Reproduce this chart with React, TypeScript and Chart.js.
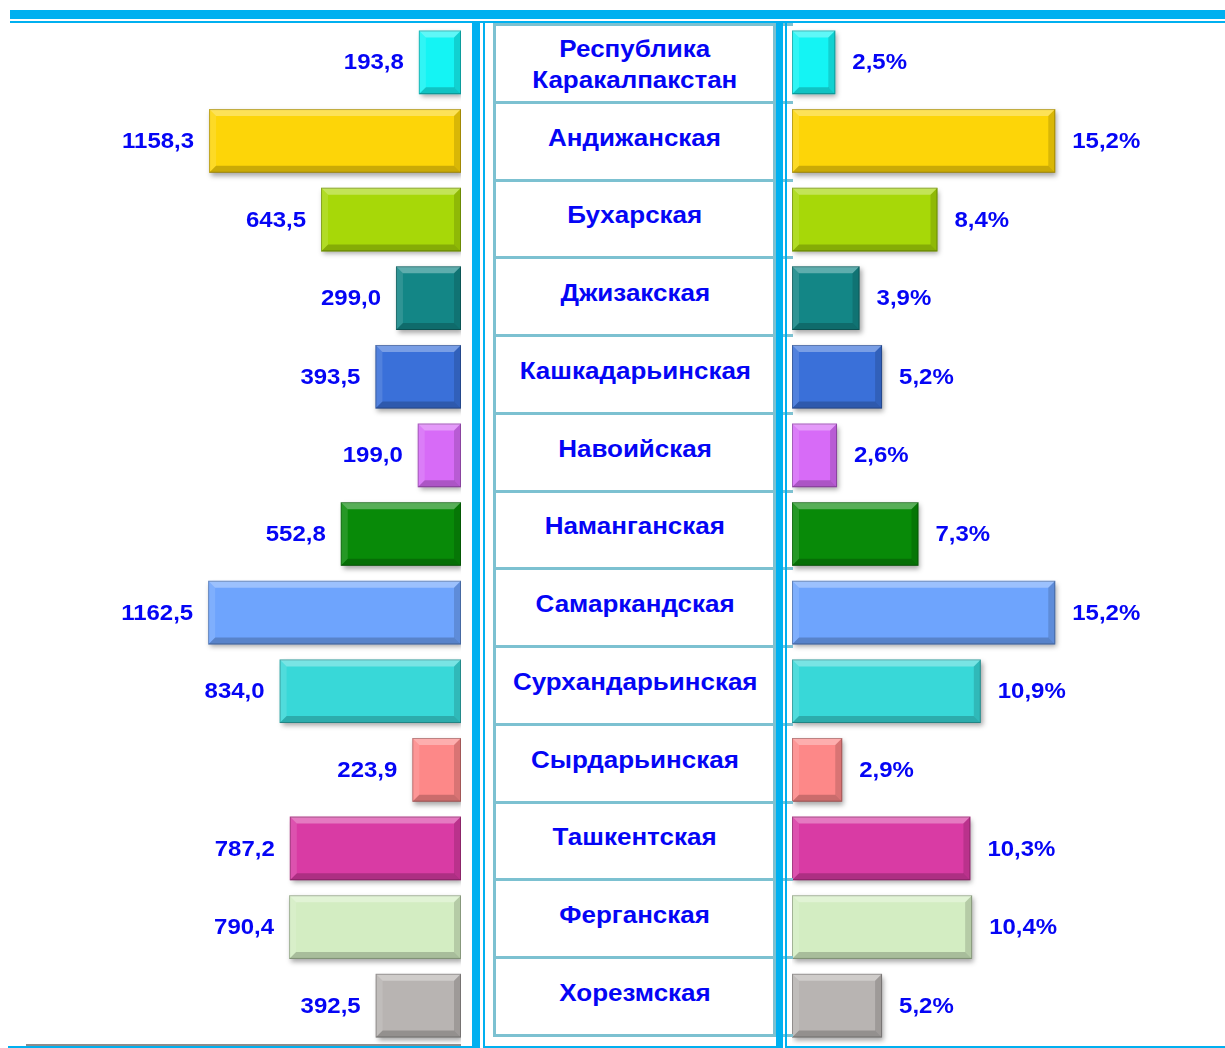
import React, { useEffect, useRef } from "react";
import { Chart, registerables } from "chart.js";

Chart.register(...registerables);

const regions: string[] = [
  "Республика Каракалпакстан",
  "Андижанская",
  "Бухарская",
  "Джизакская",
  "Кашкадарьинская",
  "Навоийская",
  "Наманганская",
  "Самаркандская",
  "Сурхандарьинская",
  "Сырдарьинская",
  "Ташкентская",
  "Ферганская",
  "Хорезмская",
];

const values: number[] = [193.8, 1158.3, 643.5, 299.0, 393.5, 199.0, 552.8, 1162.5, 834.0, 223.9, 787.2, 790.4, 392.5];
const shares: number[] = [2.5, 15.2, 8.4, 3.9, 5.2, 2.6, 7.3, 15.2, 10.9, 2.9, 10.3, 10.4, 5.2];

const barColors: string[] = [
  "#14F4F4",
  "#FDD508",
  "#A7D808",
  "#138686",
  "#3A70D9",
  "#D76BF7",
  "#088A08",
  "#6EA4FD",
  "#38D8D8",
  "#FD8888",
  "#D93BA4",
  "#D3EDC2",
  "#B8B4B2",
];

const FRAME = "#00B0F0";
const TABLE_LINE = "#7CC1D1";
const TEXT_BLUE = "#0505F5";
const FONT = 'bold 22px "Liberation Sans", Arial, sans-serif';
const CENTER_FONT = 'bold 23px "Liberation Sans", Arial, sans-serif';

const fmt = (v: number) => v.toFixed(1).replace(".", ",");

function makeBevelPlugin(side: "left" | "right", labelText: (i: number) => string) {
  return {
    id: "bevelLabels",
    beforeDatasetsDraw(chart: any) {
      const ctx = chart.ctx;
      ctx.save();
      ctx.shadowColor = "rgba(0,0,0,0.35)";
      ctx.shadowBlur = 5;
      ctx.shadowOffsetX = 2;
      ctx.shadowOffsetY = 3;
    },
    afterDatasetsDraw(chart: any) {
      const ctx = chart.ctx;
      ctx.restore();
      const meta = chart.getDatasetMeta(0);
      meta.data.forEach((bar: any, i: number) => {
        const { x, y, base, height } = bar.getProps(["x", "y", "base", "height"], true);
        const l = Math.min(x, base);
        const r = Math.max(x, base);
        const t = y - height / 2;
        const b = y + height / 2;
        const bv = Math.min(7, (r - l) / 2, height / 2);
        const poly = (pts: number[][], fill: string) => {
          ctx.beginPath();
          ctx.moveTo(pts[0][0], pts[0][1]);
          for (let k = 1; k < pts.length; k++) ctx.lineTo(pts[k][0], pts[k][1]);
          ctx.closePath();
          ctx.fillStyle = fill;
          ctx.fill();
        };
        poly([[l, t], [r, t], [r - bv, t + bv], [l + bv, t + bv]], "rgba(255,255,255,0.32)");
        poly([[l, t], [l + bv, t + bv], [l + bv, b - bv], [l, b]], "rgba(255,255,255,0.12)");
        poly([[l, b], [l + bv, b - bv], [r - bv, b - bv], [r, b]], "rgba(0,0,0,0.2)");
        poly([[r, t], [r, b], [r - bv, b - bv], [r - bv, t + bv]], "rgba(0,0,0,0.14)");
        ctx.strokeStyle = "rgba(0,0,0,0.25)";
        ctx.lineWidth = 1;
        ctx.strokeRect(l + 0.5, t + 0.5, r - l - 1, b - t - 1);

        ctx.save();
        ctx.font = FONT;
        ctx.fillStyle = TEXT_BLUE;
        ctx.textBaseline = "middle";
        if (side === "left") {
          ctx.textAlign = "right";
          ctx.translate(l - 15, y + 1);
        } else {
          ctx.textAlign = "left";
          ctx.translate(r + 17, y + 1);
        }
        ctx.scale(1.09, 1);
        ctx.fillText(labelText(i), 0, 0);
        ctx.restore();
      });
      if (side === "left") {
        const ca = chart.chartArea;
        ctx.fillStyle = "#8C8C8C";
        ctx.fillRect(ca.left, ca.bottom - 1, ca.right - ca.left, 2);
      }
    },
  };
}

function BarPanel(props: {
  side: "left" | "right";
  data: number[];
  max: number;
  label: (i: number) => string;
  left: number;
  width: number;
  padding: { left: number; right: number; top: number; bottom: number };
}) {
  const ref = useRef<HTMLCanvasElement | null>(null);
  useEffect(() => {
    if (!ref.current) return;
    const chart = new Chart(ref.current, {
      type: "bar",
      data: {
        labels: regions,
        datasets: [
          {
            data: props.data,
            backgroundColor: barColors,
            borderWidth: 0,
            barPercentage: 0.81,
            categoryPercentage: 1,
          },
        ],
      },
      options: {
        indexAxis: "y",
        responsive: false,
        animation: false,
        devicePixelRatio: 1,
        layout: { padding: props.padding },
        plugins: { legend: { display: false }, tooltip: { enabled: false } },
        scales: {
          x: { display: false, min: 0, max: props.max, reverse: props.side === "left" },
          y: { display: false },
        },
      },
      plugins: [makeBevelPlugin(props.side, props.label)],
    } as any);
    return () => chart.destroy();
  }, []);
  return (
    <canvas
      ref={ref}
      width={props.width}
      height={1048}
      style={{ position: "absolute", left: props.left, top: 0, width: props.width, height: 1048 }}
    />
  );
}

const box = (left: number, top: number, width: number, height: number, bg: string, key?: string) => (
  <div key={key} style={{ position: "absolute", left, top, width, height, background: bg }} />
);

export default function App() {
  const rowTop = 24.5;
  const rowH = 77.75;
  return (
    <div style={{ position: "absolute", left: 0, top: 0, width: 1225, height: 1048, background: "#fff", overflow: "hidden" }}>
      <BarPanel
        side="left"
        data={values}
        max={2000}
        label={(i) => fmt(values[i])}
        left={0}
        width={472}
        padding={{ left: 26, right: 11, top: 23, bottom: 3 }}
      />
      <BarPanel
        side="right"
        data={shares}
        max={25}
        label={(i) => fmt(shares[i]) + "%"}
        left={785}
        width={440}
        padding={{ left: 7, right: 0, top: 23, bottom: 3 }}
      />
      {/* table */}
      {regions.map((r, i) => (
        <div
          key={"row" + i}
          style={{
            position: "absolute",
            left: 486,
            top: rowTop + rowH * i,
            width: 298,
            height: rowH,
            display: "flex",
            alignItems: "center",
            justifyContent: "center",
            textAlign: "center",
            font: CENTER_FONT,
            lineHeight: "31px",
            color: TEXT_BLUE,
            paddingTop: i === 0 ? 3 : 0,
            paddingBottom: i === 0 ? 0 : 6,
            boxSizing: "border-box",
            whiteSpace: "nowrap",
          }}
        >
          <span style={{ display: "inline-block", transform: "scaleX(1.13)" }}>
            {i === 0 ? (
              <>
                Республика
                <br />
                Каракалпакстан
              </>
            ) : (
              r
            )}
          </span>
        </div>
      ))}
      {Array.from({ length: regions.length + 1 }).map((_, k) =>
        box(493, rowTop + rowH * k - 1.5, 300, 3, TABLE_LINE, "h" + k)
      )}
      {box(493, 23, 3, 1013, TABLE_LINE, "tl")}
      {box(773, 23, 3, 1013, TABLE_LINE, "tr")}
      {/* frame */}
      {box(10, 10, 1215, 9, FRAME, "t1")}
      {box(10, 21, 1215, 2, FRAME, "t2")}
      {box(472, 21, 8, 1027, FRAME, "v1")}
      {box(483, 21, 2, 1027, FRAME, "v2")}
      {box(776, 21, 7, 1027, FRAME, "v3")}
      {box(785, 21, 2, 1027, FRAME, "v4")}
      {box(8, 1046, 472, 2, FRAME, "b1")}
      {box(483, 1046, 300, 2, FRAME, "b2")}
      {box(785, 1046, 440, 2, FRAME, "b3")}
    </div>
  );
}
